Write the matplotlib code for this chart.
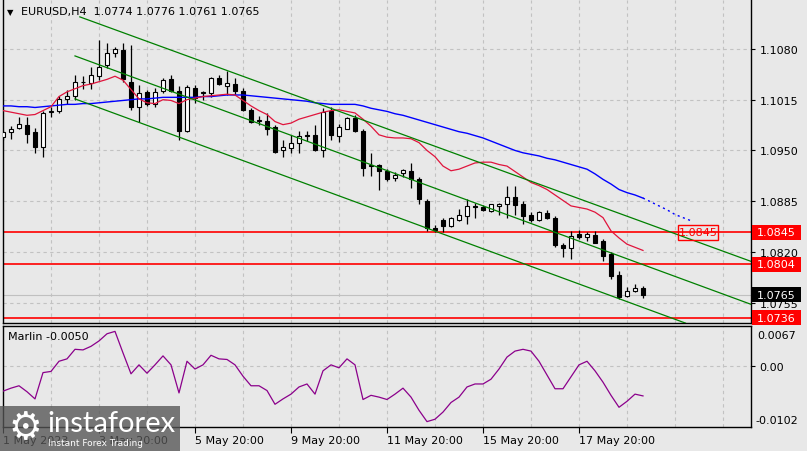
import matplotlib
matplotlib.use("Agg")
import matplotlib.pyplot as plt
import matplotlib.transforms as mtransforms
from matplotlib.patches import Rectangle

plt.rcParams['font.family'] = ['DejaVu Sans']

# ---------------- data ----------------
opens = [1.0967, 1.0974, 1.0979, 1.0983, 1.0973, 1.0954, 1.0999, 1.1000, 1.1016, 1.1020,
         1.1038, 1.1036, 1.1045, 1.1060, 1.1075, 1.1079, 1.1038, 1.1006, 1.1025, 1.1010,
         1.1026, 1.1042, 1.1026, 1.0975, 1.1030, 1.1024, 1.1023, 1.1043, 1.1033, 1.1035,
         1.1026, 1.1002, 1.0988, 1.0988, 1.0980, 1.0951, 1.0953, 1.0959, 1.0970, 1.0970,
         1.0951, 1.1000, 1.0968, 1.0978, 1.0992, 1.0975, 1.0930, 1.0931, 1.0924, 1.0915,
         1.0921, 1.0924, 1.0914, 1.0885, 1.0851, 1.0861, 1.0853, 1.0861, 1.0866, 1.0879,
         1.0878, 1.0873, 1.0879, 1.0881, 1.0890, 1.0882, 1.0867, 1.0861, 1.0870, 1.0864,
         1.0829, 1.0825, 1.0843, 1.0839, 1.0842, 1.0834, 1.0817, 1.0791, 1.0764, 1.0770,
         1.0774]
highs = [1.0975, 1.0981, 1.0993, 1.0993, 1.0979, 1.1001, 1.1005, 1.1020, 1.1028, 1.1046,
         1.1045, 1.1057, 1.1091, 1.1087, 1.1083, 1.1088, 1.1085, 1.1034, 1.1028, 1.1030,
         1.1043, 1.1047, 1.1032, 1.1034, 1.1034, 1.1026, 1.1044, 1.1047, 1.1052, 1.1043,
         1.1030, 1.1004, 1.0994, 1.0998, 1.0983, 1.0963, 1.0970, 1.0975, 1.0975, 1.0982,
         1.1004, 1.1006, 1.0984, 1.0993, 1.0996, 1.0977, 1.0947, 1.0933, 1.0926, 1.0922,
         1.0926, 1.0934, 1.0916, 1.0888, 1.0854, 1.0863, 1.0865, 1.0875, 1.0888, 1.0883,
         1.0880, 1.0882, 1.0883, 1.0904, 1.0904, 1.0885, 1.0871, 1.0872, 1.0874, 1.0866,
         1.0832, 1.0847, 1.0848, 1.0845, 1.0847, 1.0837, 1.0820, 1.0796, 1.0775, 1.0779,
         1.0776]
lows = [1.0964, 1.0965, 1.0978, 1.0960, 1.0947, 1.0942, 1.0993, 1.0998, 1.1010, 1.1014,
        1.1029, 1.1029, 1.1040, 1.1055, 1.1069, 1.1038, 1.1002, 1.0986, 1.1007, 1.1006,
        1.1024, 1.1025, 1.0964, 1.0973, 1.1011, 1.1015, 1.1019, 1.1034, 1.1021, 1.1021,
        1.1001, 1.0985, 1.0983, 1.0970, 1.0947, 1.0941, 1.0947, 1.0947, 1.0962, 1.0949,
        1.0941, 1.0963, 1.0961, 1.0977, 1.0974, 1.0917, 1.0917, 1.0900, 1.0911, 1.0911,
        1.0916, 1.0902, 1.0881, 1.0847, 1.0845, 1.0845, 1.0852, 1.0860, 1.0856, 1.0864,
        1.0873, 1.0871, 1.0868, 1.0864, 1.0868, 1.0856, 1.0858, 1.0860, 1.0862, 1.0826,
        1.0813, 1.0811, 1.0837, 1.0834, 1.0831, 1.0809, 1.0786, 1.0760, 1.0762, 1.0769,
        1.0761]
closes = [1.0973, 1.0978, 1.0984, 1.0971, 1.0954, 1.0998, 1.1000, 1.1016, 1.1020, 1.1038,
          1.1037, 1.1046, 1.1057, 1.1075, 1.1080, 1.1042, 1.1005, 1.1024, 1.1010, 1.1025,
          1.1040, 1.1026, 1.0975, 1.1031, 1.1017, 1.1024, 1.1043, 1.1035, 1.1036, 1.1026,
          1.1002, 1.0987, 1.0989, 1.0978, 1.0948, 1.0954, 1.0960, 1.0968, 1.0969, 1.0951,
          1.0999, 1.0970, 1.0980, 1.0992, 1.0975, 1.0928, 1.0931, 1.0924, 1.0914, 1.0919,
          1.0925, 1.0914, 1.0888, 1.0851, 1.0848, 1.0853, 1.0863, 1.0868, 1.0879, 1.0878,
          1.0874, 1.0881, 1.0881, 1.0891, 1.0880, 1.0866, 1.0861, 1.0871, 1.0863, 1.0829,
          1.0825, 1.0841, 1.0839, 1.0843, 1.0832, 1.0815, 1.0789, 1.0763, 1.0770, 1.0774,
          1.0765]

ma_fast = [1.1001, 1.0999, 1.0997, 1.0995, 1.0996, 1.1001, 1.1006, 1.1019, 1.1025, 1.1029,
           1.1033, 1.1035, 1.1038, 1.1041, 1.1045, 1.1040, 1.1028, 1.1016, 1.1011, 1.1010,
           1.1015, 1.1014, 1.1010, 1.1015, 1.1017, 1.1019, 1.1020, 1.1021, 1.1022, 1.1021,
           1.1014, 1.1007, 1.1001, 1.0996, 1.0987, 1.0983, 1.0985, 1.0990, 1.0993, 1.0996,
           1.0999, 1.1001, 1.1002, 1.1000, 1.0998, 1.0990, 1.0981, 1.0970, 1.0967, 1.0966,
           1.0966, 1.0965, 1.0960, 1.0950, 1.0942, 1.0930, 1.0924, 1.0926, 1.0930, 1.0934,
           1.0935, 1.0935, 1.0932, 1.0930, 1.0923, 1.0916, 1.0909, 1.0905, 1.0900, 1.0893,
           1.0886, 1.0879, 1.0877, 1.0875, 1.0871, 1.0864, 1.0847, 1.0838, 1.0830, 1.0826,
           1.0822]
ma_slow = [1.1007, 1.1007, 1.1006, 1.1006, 1.1005, 1.1006, 1.1007, 1.1008, 1.1009, 1.1009,
           1.1010, 1.1010, 1.1011, 1.1012, 1.1013, 1.1014, 1.1015, 1.1016, 1.1016, 1.1017,
           1.1018, 1.1018, 1.1018, 1.1018, 1.1018, 1.1019, 1.1019, 1.1020, 1.1021, 1.1021,
           1.1021, 1.1020, 1.1019, 1.1018, 1.1017, 1.1016, 1.1015, 1.1014, 1.1013, 1.1011,
           1.1010, 1.1009, 1.1009, 1.1009, 1.1009, 1.1007, 1.1004, 1.1002, 1.1000, 1.0997,
           1.0995, 1.0992, 1.0989, 1.0986, 1.0983, 1.0980, 1.0977, 1.0974, 1.0972, 1.0969,
           1.0966, 1.0962, 1.0958, 1.0954, 1.0950, 1.0947, 1.0945, 1.0943, 1.0940, 1.0938,
           1.0935, 1.0932, 1.0929, 1.0926, 1.0920, 1.0913, 1.0907, 1.0900, 1.0896, 1.0893,
           1.0889]
ma_slow_ext = [1.0889, 1.0884, 1.0879, 1.0874, 1.0868, 1.0864, 1.0860]

marlin = [-0.0042, -0.0037, -0.0033, -0.0043, -0.0055, -0.0011, -0.0009, 0.0008, 0.0012, 0.0028,
          0.0027, 0.0033, 0.0042, 0.0054, 0.0058, 0.0022, -0.0013, 0.0002, -0.0012, 0.0002,
          0.0017, 0.0002, -0.0045, 0.0008, -0.0005, 0.0002, 0.0018, 0.0012, 0.0011, 0.0002,
          -0.0017, -0.0033, -0.0033, -0.0041, -0.0064, -0.0055, -0.0047, -0.0035, -0.0030, -0.0047,
          -0.0008, 0.0002, -0.0003, 0.0012, 0.0002, -0.0056, -0.0049, -0.0052, -0.0056, -0.0047,
          -0.0037, -0.0052, -0.0074, -0.0093, -0.0089, -0.0077, -0.0061, -0.0052, -0.0035, -0.0030,
          -0.0030, -0.0022, -0.0005, 0.0015, 0.0025, 0.0028, 0.0025, 0.0008, -0.0015, -0.0038,
          -0.0038, -0.0018, 0.0002, 0.0008, -0.0008, -0.0027, -0.0049, -0.0069, -0.0059, -0.0047,
          -0.0050]

# channel lines: (bar_start, price_start, bar_end, price_end)
channel_top = (9.6, 1.1121, 93.5, 1.0808)
channel_mid = (9.0, 1.1071, 93.5, 1.0753)
channel_bot = (9.0, 1.1016, 85.3, 1.0729)

levels = [1.0845, 1.0804, 1.0736]
price_ticks = [1.1080, 1.1015, 1.0950, 1.0885, 1.0820, 1.0755]
date_tick_bars = [0, 12, 24, 36, 48, 60, 72]
date_labels = ['1 May 2023', '3 May 20:00', '5 May 20:00', '9 May 20:00',
               '11 May 20:00', '15 May 20:00', '17 May 20:00']
symbol = 'EURUSD,H4'
ind_name = 'Marlin'
ind_top, ind_bottom = 0.0067, -0.0102

# ---------------- figure ----------------
W, H = 807, 452
BG = '#e8e8e8'
GRID = '#c2c2c2'
fig = plt.figure(figsize=(W / 100, H / 100), dpi=100, facecolor=BG)


def fax(x0, y0, x1, y1):
    return [x0 / W, 1 - y1 / H, (x1 - x0) / W, (y1 - y0) / H]


ax = fig.add_axes(fax(2.5, 1, 751, 324))
ax2 = fig.add_axes(fax(2.5, 327, 751, 428))
YMAX, YMIN = 1.11426, 1.07291
XMIN, XMAX = -0.0625, 93.5

for a in (ax, ax2):
    a.set_facecolor(BG)
    a.set_xlim(XMIN, XMAX)
    for s in a.spines.values():
        s.set_color('black')
        s.set_linewidth(1.0)
    for b in range(6, 94, 6):
        a.axvline(b, color=GRID, lw=0.8, ls=(0, (3, 3)), zorder=0)
ax.spines['top'].set_visible(False)

ax.set_ylim(YMIN, YMAX)
ax.set_xticks([])
ax.yaxis.tick_right()
ax.set_yticks(price_ticks)
ax.set_yticklabels(['%.4f' % p for p in price_ticks])
ax.tick_params(axis='y', direction='out', length=3, width=0.8, pad=3, labelsize=8,
               colors='black')
for p in price_ticks:
    ax.axhline(p, color=GRID, lw=0.8, ls=(0, (3, 3)), zorder=0)

# current price line
ax.axhline(closes[-1], color='#c0c0c0', lw=0.8, zorder=1)

# horizontal levels
for lv in levels:
    ax.axhline(lv, color='#ff0000', lw=1.2, zorder=2)

# moving averages
xs = list(range(len(closes)))
ax.plot(xs, ma_slow, color='#0000ff', lw=1.0, zorder=4)
ax.plot(range(len(closes) - 1, len(closes) - 1 + len(ma_slow_ext)), ma_slow_ext,
        color='#0000ff', lw=1.0, ls=(0, (1.5, 2.5)), zorder=4)
ax.plot(xs, ma_fast, color='#e0143c', lw=0.9, zorder=4)

# channel
for (b0, p0, b1, p1) in (channel_top, channel_mid, channel_bot):
    ax.plot([b0, b1], [p0, p1], color='#008000', lw=0.9, zorder=4, clip_on=True)

# candles
ax.vlines(xs, lows, highs, color='black', lw=0.9, zorder=3)
heights = []
colors = []
for o, c in zip(opens, closes):
    h = c - o
    if abs(h) < 0.00002:
        h = 0.00002
    heights.append(h)
    colors.append('white' if c >= o else 'black')
ax.bar(xs, heights, bottom=opens, width=0.62, color=colors, edgecolor='black',
       linewidth=0.8, zorder=3.5)

# level box inside chart
ax.add_patch(Rectangle((84.4, 1.0845 - 0.00100), 5.0, 0.00200, fill=False,
                       edgecolor='#ff0000', lw=1.0, zorder=5))
ax.text(86.9, 1.0845, '%.4f' % 1.0845, color='#ff0000', fontsize=8,
        ha='center', va='center', zorder=6)

# right-side boxed labels
bt = mtransforms.blended_transform_factory(fig.transFigure, ax.transData)
hh = 7.5 * (YMAX - YMIN) / 323.0
boxes = [(levels[0], '#ff0000'), (levels[1], '#ff0000'), (closes[-1], '#000000'),
         (levels[2], '#ff0000')]
for p, col in boxes:
    r = Rectangle((752 / W, p - hh), 49 / W, 2 * hh, transform=bt, facecolor=col,
                  edgecolor='none', clip_on=False, zorder=10)
    ax.add_patch(r)
    ax.text(757 / W, p, '%.4f' % p, transform=bt, color='white', fontsize=8,
            ha='left', va='center', clip_on=False, zorder=11)

# title
fig.text(10 / W, 1 - 12.5 / H, '\u25bc', fontsize=6, ha='center', va='center')
fig.text(21 / W, 1 - 12 / H,
         '%s  %.4f %.4f %.4f %.4f' % (symbol, opens[-1], highs[-1], lows[-1], closes[-1]),
         fontsize=8, ha='left', va='center')

# ---------------- indicator ----------------
ax2.set_ylim(ind_bottom, ind_top)
ax2.axhline(0.0, color=GRID, lw=0.8, ls=(0, (3, 3)), zorder=0)
ax2.plot(xs, marlin, color='#8b008b', lw=0.9, zorder=3)
ax2.yaxis.tick_right()
ax2.set_yticks([0.0])
ax2.set_yticklabels(['0.00'])
ax2.tick_params(axis='y', direction='out', length=3, width=0.8, pad=3, labelsize=8)
fig.text(757 / W, 1 - 336 / H, '%.4f' % ind_top, fontsize=8, ha='left', va='center')
fig.text(755 / W, 1 - 421 / H, '%.4f' % ind_bottom, fontsize=8, ha='left', va='center')
fig.text(8 / W, 1 - 337 / H, '%s %.4f' % (ind_name, marlin[-1]), fontsize=8,
         ha='left', va='center')

ax2.set_xticks(date_tick_bars)
ax2.set_xticklabels(date_labels, ha='left', fontsize=8)
ax2.tick_params(axis='x', direction='out', length=4, width=0.8, pad=2)

# ---------------- watermark ----------------
fig.patches.append(Rectangle((0, 0), 180 / W, 45 / H, transform=fig.transFigure,
                             facecolor='#555555', alpha=0.78, edgecolor='none',
                             zorder=20))
fig.text(25 / W, 1 - 429 / H, '\u2699', fontsize=27, color='white', ha='center',
         va='center', zorder=21)
fig.text(47 / W, 1 - 424 / H, 'instaforex', fontsize=21, color='white',
         family=['Lato', 'DejaVu Sans'], ha='left', va='center', zorder=21)
fig.text(48 / W, 1 - 444 / H, 'Instant Forex Trading', fontsize=6.5, color='white',
         ha='left', va='center', zorder=21)

fig.savefig('out.png', dpi=100, facecolor=BG)
